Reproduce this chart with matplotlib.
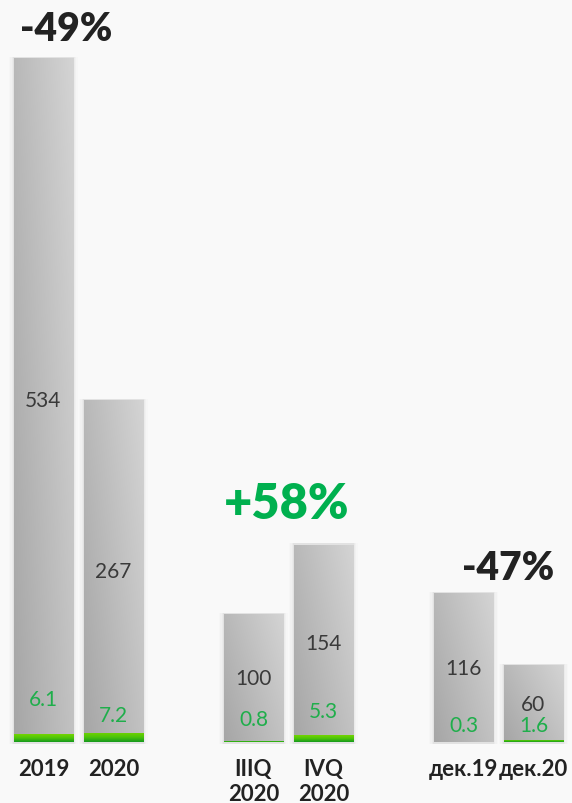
import numpy as np
import matplotlib
matplotlib.use("Agg")
from matplotlib import pyplot as plt
from matplotlib.patches import Rectangle
from matplotlib.colors import LinearSegmentedColormap

# data
categories = ["2019", "2020", "IIIQ\n2020", "IVQ\n2020", "дек.19", "дек.20"]
gray_values = [534, 267, 100, 154, 116, 60]
green_values = [6.1, 7.2, 0.8, 5.3, 0.3, 1.6]
changes = ["-49%", "+58%", "-47%"]

# layout (bar slots, label heights)
positions = [0, 1, 3, 4, 6, 7]
green_label_y = [33.6, 21.1, 18.0, 24.2, 13.3, 13.3]
change_xy = [(0.32, 557), (3.48, 186), (6.64, 136)]
change_sizes = [28, 35, 28]
change_colors = ["#222222", "#00b04f", "#222222"]

bg = "#f9f9f9"
fonts = ["Lato", "DejaVu Sans"]

fig = plt.figure(figsize=(5.72, 8.04), dpi=100, facecolor=bg)
ax = fig.add_axes([0, 0, 1, 1])
ax.set_facecolor(bg)
ax.axis("off")

width = 0.843

# soft shadow behind the bars
for p, v in zip(positions, gray_values):
    for k, a in zip([0.07, 0.05, 0.03, 0.015], [0.012, 0.018, 0.025, 0.035]):
        ax.add_patch(Rectangle((p - width / 2 - k, -1.5), width + 2 * k, v + 2.5,
                               facecolor="#000000", alpha=a, lw=0, zorder=1))

bars = ax.bar(positions, gray_values, width=width, color="none", lw=0, zorder=2)

# diagonal gray gradient clipped to each bar
gcmap_gray = LinearSegmentedColormap.from_list("gr", ["#a6a6a6", "#d4d4d4"])
gx, gy = np.meshgrid(np.linspace(0, 1, 60), np.linspace(0, 1, 200))
grad = 0.6 * gx + 0.4 * gy
for b in bars:
    x0, y0 = b.get_x(), b.get_y()
    im = ax.imshow(grad, cmap=gcmap_gray, vmin=0, vmax=1, origin="lower",
                   extent=[x0, x0 + b.get_width(), y0, y0 + b.get_height()],
                   aspect="auto", zorder=2)
    im.set_clip_path(b)

# green bars
gbars = ax.bar(positions, green_values, width=width, color="none", lw=0, zorder=3)
ggrad = np.linspace(0, 1, 50).reshape(-1, 1)
gcmap = LinearSegmentedColormap.from_list("g", ["#169a1e", "#4cc40a", "#74d400"])
for b in gbars:
    x0 = b.get_x()
    im = ax.imshow(ggrad, cmap=gcmap, origin="lower",
                   extent=[x0, x0 + b.get_width(), 0, b.get_height()],
                   aspect="auto", zorder=3)
    im.set_clip_path(b)

ax.set_xlim(-0.621, 7.55)
ax.set_ylim(-47.6, 580.0)

# value labels
for p, v, g, gy_ in zip(positions, gray_values, green_values, green_label_y):
    ax.text(p, v / 2, str(v), ha="center", va="center", fontsize=15,
            color="#3a3a3a", family=fonts, fontweight="normal", zorder=4)
    ax.text(p, gy_, str(g), ha="center", va="center", fontsize=15,
            color="#1fae4b", family=fonts, fontweight="normal", zorder=4)

# category labels
for p, c in zip(positions, categories):
    for i, line in enumerate(c.split("\n")):
        ax.text(p, -25.5 - i * 19.5, line, ha="center", va="baseline",
                fontsize=16, color="#222222", family=fonts, fontweight="bold")

# change labels
for (x, y), t, s, col in zip(change_xy, changes, change_sizes, change_colors):
    ax.text(x, y, t, ha="center", va="center", fontsize=s, color=col,
            family=fonts, fontweight="heavy")

fig.savefig("out.png", dpi=100, facecolor=bg)
